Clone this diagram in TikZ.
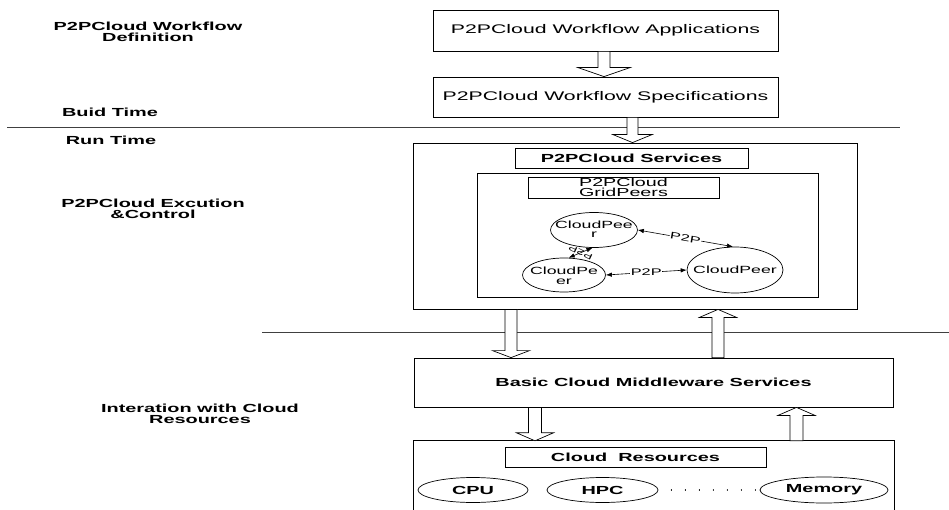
\documentclass[tikz,border=0pt]{standalone}
\usepackage{fontspec}
\setmainfont{Liberation Sans}[FakeStretch=1.7]
\usetikzlibrary{shapes.geometric,arrows.meta,calc}

\tikzset{
  box/.style={draw, line width=0.8pt, rectangle, inner sep=0pt},
  frame/.style={line width=0.8pt},
  boxtext/.style={font=\fontsize{12.5}{13}\selectfont},
  boldtext/.style={font=\fontsize{11.7}{12}\selectfont\bfseries},
  sidelabel/.style={align=center, inner sep=0pt, font=\fontsize{11.7}{11}\selectfont\bfseries},
  gridtext/.style={align=center, inner sep=0pt, font=\fontsize{11.6}{10}\selectfont},
  peer/.style={draw, ellipse, line width=0.7pt, inner sep=0pt},
  peertext/.style={align=center, inner sep=0pt, font=\fontsize{10.4}{9.5}\selectfont},
  res/.style={draw, ellipse, line width=0.7pt, inner sep=0pt, font=\fontsize{11.7}{12}\selectfont\bfseries},
  link/.style={{Latex[length=6pt,width=4.5pt]}-{Latex[length=6pt,width=4.5pt]}, line width=0.6pt},
  linklabel/.style={fill=white, inner sep=0.6pt, font=\fontsize{9.6}{10}\selectfont},
  sep/.style={line width=0.8pt, black!75},
  blockarr/.style={draw, fill=white, line width=0.7pt, line join=miter},
}

% hollow block arrow along a vertical line given by the x of coordinate #1,
% from anchor #2 to anchor #3; #4 half shaft width, #5 half head width, #6 head length
\newcommand{\blockarrow}[6]{%
  \draw[blockarr] let \p1=(#2 -| #1), \p2=(#3 -| #1),
    \n1={ifthenelse(\y2>\y1,1,-1)}, \n2={\y2-(\n1)*#6pt} in
    ({\x1-#4pt},\y1) -- ({\x1-#4pt},\n2) -- ({\x1-#5pt},\n2) -- (\x2,\y2)
    -- ({\x1+#5pt},\n2) -- ({\x1+#4pt},\n2) -- ({\x1+#4pt},\y1) -- cycle;}

\begin{document}
\begin{tikzpicture}[x=1pt,y=-1pt]
\useasboundingbox (0,0) rectangle (949,510);

% phase labels on the left
\node[sidelabel] (lbldef)   at (148,31.5)  {P2PCloud Workflow\\Definition};
\node[sidelabel] (lblbuild) at (110,112)   {Buid Time};
\node[sidelabel] (lblrun)   at (111,140.5) {Run Time};
\node[sidelabel] (lblexec)  at (153,208.5) {P2PCloud Excution\\\&Control};
\node[sidelabel] (lblres)   at (200,413.5) {Interation with Cloud\\Resources};

% separators between the phases
\coordinate (s1a) at (7,127);   \coordinate (s1b) at (900,127);
\coordinate (s2a) at (262,332); \coordinate (s2b) at (949,332);
\draw[sep] (s1a) -- (s1b);
\draw[sep] (s2a) -- (s2b);

% build time boxes
\node[box, boxtext, minimum width=345pt, minimum height=41pt] (apps) at (605.5,30.5) {P2PCloud Workflow Applications};
\node[box, boxtext, minimum width=345pt, minimum height=40pt] (spec) at (605.5,97) {P2PCloud Workflow Specifications};

% run time: execution and control
\node[box, minimum width=444pt, minimum height=166pt] (big) at (635,226) {};
\node[box, boldtext, minimum width=233pt, minimum height=20pt] (svc) at (631.5,158) {P2PCloud Services};
\node[box, minimum width=341pt, minimum height=124pt] (inner) at (647.5,235) {};
\node[box, minimum width=191pt, minimum height=21pt,
      label={[gridtext, yshift=0.5pt]center:P2PCloud\\GridPeers}] (grid) at (623.5,187.5) {};

% peers
\node[peer, minimum width=87pt, minimum height=35pt, label={[peertext, yshift=1pt]center:CloudPee\\r}] (c1) at (594,230) {};
\node[peer, minimum width=83pt, minimum height=34pt, label={[peertext, yshift=-1pt]center:CloudPe\\er}] (c2) at (564,275) {};
\node[peer, minimum width=96pt, minimum height=46pt, label={[peertext]center:CloudPeer}] (c3) at (735,270) {};

\draw[link] (c1.east) -- node[linklabel, sloped] {P2P} (c3.95);
\draw[link] (c2.east) -- node[linklabel] {P2P} (c3.west);
\draw[link] (c1.265) -- node[linklabel, fill=none, inner sep=0pt, rotate=155, font=\fontsize{8}{8}\selectfont] {P2P} (c2.75);

% middleware
\node[box, boldtext, minimum width=479pt, minimum height=49pt] (mw) at (653.5,382.5) {Basic Cloud Middleware Services};

% cloud resources (open at the bottom edge)
\node[minimum width=480pt, minimum height=69pt, inner sep=0pt] (resbox) at (654,475.5) {};
\draw[frame] (resbox.south west) -- (resbox.north west) -- (resbox.north east) -- (resbox.south east);
\node[box, boldtext, minimum width=261pt, minimum height=20pt] (cres) at (635.5,457) {Cloud\ \ Resources};
\node[res, minimum width=110pt, minimum height=25pt] (cpu) at (473,490) {CPU};
\node[res, minimum width=111pt, minimum height=25pt] (hpc) at (602.5,490) {HPC};
\node[res, minimum width=128pt, minimum height=26pt] (mem) at (824,490) {Memory};
\draw[line width=1.1pt, line cap=round, dash pattern=on 0.01pt off 14pt, shorten <=13pt] (hpc.east) -- (mem.west);

% block arrows
\coordinate (xa1) at (604,0);
\coordinate (xa2) at (632.5,0);
\coordinate (xa3) at (511,0);
\coordinate (xa4) at (718,0);
\coordinate (xa5) at (535,0);
\coordinate (xa6) at (796.5,0);
\blockarrow{xa1}{apps.south}{spec.north}{6}{26}{9}
\blockarrow{xa2}{spec.south}{big.north}{5.5}{19.5}{8}
\blockarrow{xa3}{big.south}{mw.north}{6}{18.5}{7}
\blockarrow{xa4}{mw.north}{big.south}{6}{18.5}{8}
\blockarrow{xa5}{mw.south}{resbox.north}{6.5}{18.5}{8}
\blockarrow{xa6}{resbox.north}{mw.south}{6.5}{18.5}{8}
\end{tikzpicture}
\end{document}
